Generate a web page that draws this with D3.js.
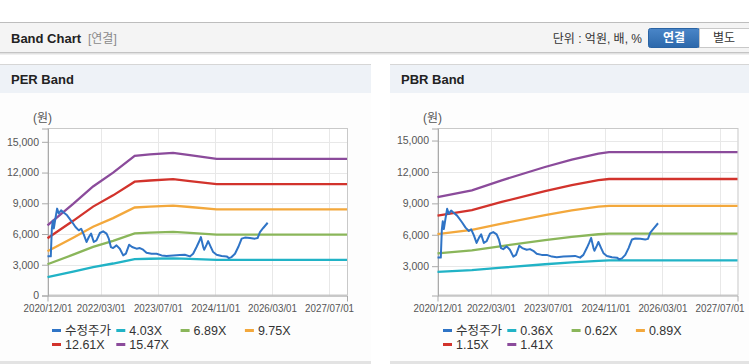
<!DOCTYPE html>
<html><head><meta charset="utf-8">
<script src="https://cdn.jsdelivr.net/npm/d3@7"></script>
<style>
html,body{margin:0;padding:0;background:#fff;}
svg{display:block;font-family:"Liberation Sans","Noto Sans CJK KR",sans-serif;}
</style></head>
<body><svg id="c" width="749" height="364"></svg>
<script>
// ---------- data ----------
const xTickLabels = ["2020/12/01","2022/03/01","2023/07/01","2024/11/01","2026/03/01","2027/07/01"];
const yTicksPer = [0,3000,6000,9000,12000,15000];
const yTicksPbr = [3000,6000,9000,12000,15000];

// 수정주가 (adjusted price), shared by both charts
const priceDates = ["2020-12-01","2020-12-29","2021-01-07","2021-01-15","2021-01-24","2021-02-07","2021-02-21","2021-03-07","2021-03-27","2021-04-13","2021-05-17","2021-06-29","2021-07-28","2021-08-25","2021-09-14","2021-10-07","2021-10-30","2021-11-19","2021-12-08","2021-12-31","2022-01-23","2022-02-21","2022-03-21","2022-04-19","2022-05-08","2022-05-26","2022-06-14","2022-07-13","2022-08-10","2022-09-08","2022-10-01","2022-10-29","2022-11-23","2022-12-31","2023-01-28","2023-02-25","2023-03-26","2023-05-08","2023-06-20","2023-08-02","2023-09-13","2023-11-09","2024-01-05","2024-02-16","2024-03-30","2024-04-27","2024-05-26","2024-06-15","2024-07-02","2024-07-22","2024-07-30","2024-08-20","2024-09-02","2024-09-25","2024-10-15","2024-11-13","2024-12-26","2025-02-07","2025-02-26","2025-03-21","2025-04-19","2025-05-17","2025-06-15","2025-07-13","2025-08-25","2025-10-06","2025-10-29","2025-11-18","2025-12-16","2026-01-23"];
const prices = [3820,3820,6500,7300,6550,7550,8480,8000,8320,8150,7830,7170,6680,6360,6520,5940,5220,5705,6040,5220,5380,6100,6260,6040,5550,4730,4630,4890,4570,3914,4080,4960,4730,4570,4630,4470,4180,4080,4080,3914,3850,3914,3950,3980,3816,4080,4730,5220,5700,4730,4470,4960,5310,4730,4240,3980,3850,3816,3650,3750,4080,4730,5550,5650,5610,5550,5610,6195,6590,7100];

// PER band
const perBandDates = ["2020-12-01","2021-07-08","2021-12-25","2022-06-14","2022-12-15","2023-04-24","2023-11-08","2024-03-30","2024-11-13","2027-12-01"];
const perNames = ["4.03X","6.89X","9.75X","12.61X","15.47X"];
const per403  = [1785,2329,2773,3123,3550,3587,3627,3571,3474,3474];
const per689  = [3052,3982,4740,5340,6070,6132,6201,6105,5939,5939];
const per975  = [4319,5636,6708,7556,8590,8678,8775,8639,8405,8405];
const per1261 = [5586,7289,8676,9773,11109,11223,11349,11172,10870,10870];
const per1547 = [6853,8942,10643,11989,13629,13768,13923,13706,13335,13335];

// PBR band
const pbrBandDates = ["2020-12-01","2021-09-20","2022-06-01","2023-06-05","2024-01-19","2024-09-02","2024-12-01","2027-12-01"];
const pbrNames = ["0.36X","0.62X","0.89X","1.15X","1.41X"];
const pbr036 = [2448,2615,2859,3185,3365,3512,3546,3546];
const pbr062 = [4216,4504,4925,5485,5796,6048,6107,6107];
const pbr089 = [6052,6466,7069,7874,8320,8682,8767,8767];
const pbr115 = [7820,8355,9134,10174,10750,11218,11328,11328];
const pbr141 = [9588,10244,11200,12474,13181,13755,13889,13889];

const priceName = "수정주가";
const colors = ["#2f74c6","#21b3c6","#8ab65a","#f3a83c","#d2332c","#8b4b9b"];

// ---------- drawing ----------
const svg = d3.select("#c");
const parse = d3.timeParse("%Y-%m-%d");
const tickParse = d3.timeParse("%Y/%m/%d");

// header
svg.append("rect").attr("x",0).attr("y",22).attr("width",749).attr("height",31).attr("fill","#f4f4f4");
svg.append("line").attr("x1",0).attr("x2",749).attr("y1",22.5).attr("y2",22.5).attr("stroke","#bdbdbd");
svg.append("line").attr("x1",0).attr("x2",749).attr("y1",52.5).attr("y2",52.5).attr("stroke","#c4c4c4");
svg.append("line").attr("x1",0).attr("x2",749).attr("y1",53.5).attr("y2",53.5).attr("stroke","#e2e2e2");
svg.append("line").attr("x1",0).attr("x2",749).attr("y1",54.5).attr("y2",54.5).attr("stroke","#f0f0f0");
svg.append("text").attr("x",11).attr("y",43).attr("font-size",13).attr("font-weight","bold").attr("fill","#222").text("Band Chart");
svg.append("text").attr("x",88).attr("y",43).attr("font-size",12).attr("fill","#8a8a8a").text("[연결]");
svg.append("text").attr("x",642).attr("y",43).attr("font-size",12).attr("text-anchor","end").attr("fill","#333").text("단위 : 억원, 배, %");
const grad = svg.append("defs").append("linearGradient").attr("id","bg").attr("x1",0).attr("x2",0).attr("y1",0).attr("y2",1);
grad.append("stop").attr("offset","0%").attr("stop-color","#4a86c8");
grad.append("stop").attr("offset","100%").attr("stop-color","#2c68ab");
svg.append("rect").attr("x",648.5).attr("y",28.5).attr("width",51).attr("height",19).attr("rx",2).attr("fill","url(#bg)").attr("stroke","#2a63a3");
svg.append("rect").attr("x",699.5).attr("y",28.5).attr("width",52).attr("height",19).attr("fill","#fff").attr("stroke","#c8c8c8");
svg.append("text").attr("x",674).attr("y",42).attr("font-size",12).attr("font-weight","bold").attr("text-anchor","middle").attr("fill","#fff").text("연결");
svg.append("text").attr("x",724).attr("y",42).attr("font-size",12).attr("text-anchor","middle").attr("fill","#333").text("별도");

function panel(px, pw, title, plotX0, plotX1, yDomain, yTicks, bandDates, bandSeries, bandNames, legendX) {
  svg.append("rect").attr("x",px).attr("y",64).attr("width",pw).attr("height",29).attr("fill","#eef2f7");
  svg.append("line").attr("x1",px).attr("x2",px+pw).attr("y1",64.5).attr("y2",64.5).attr("stroke","#d6d6d6");
  svg.append("rect").attr("x",px).attr("y",93).attr("width",pw).attr("height",268).attr("fill","#fdfdfd");
  svg.append("rect").attr("x",px).attr("y",361).attr("width",pw).attr("height",3).attr("fill","#e3e3e3");
  svg.append("text").attr("x",px+11).attr("y",84).attr("font-size",13).attr("font-weight","bold").attr("fill","#222").text(title);

  const top = 128.5, bottom = 295.5;
  const x = d3.scaleTime().domain([parse("2020-12-01"), parse("2027-12-01")]).range([plotX0, plotX1]);
  const y = d3.scaleLinear().domain(yDomain).range([bottom, top]);
  const g = svg.append("g");
  g.append("rect").attr("x",plotX0).attr("y",top).attr("width",plotX1-plotX0).attr("height",bottom-top).attr("fill","#fff");

  // grid
  g.append("g").selectAll("line").data(yTicks).join("line")
    .attr("x1",plotX0).attr("x2",plotX1).attr("y1",d=>Math.round(y(d))+0.5).attr("y2",d=>Math.round(y(d))+0.5)
    .attr("stroke","#e8e8e8");
  const xt = xTickLabels.map(s=>tickParse(s));
  g.append("g").selectAll("line").data(xt).join("line")
    .attr("x1",d=>Math.round(x(d))+0.5).attr("x2",d=>Math.round(x(d))+0.5).attr("y1",top).attr("y2",bottom)
    .attr("stroke","#e8e8e8");
  // border
  g.append("rect").attr("x",plotX0+0.5).attr("y",top).attr("width",plotX1-plotX0).attr("height",bottom-top-0.5)
    .attr("fill","none").attr("stroke","#c9c9c9");

  // axes
  const yAxis = d3.axisLeft(y).tickValues(yTicks).tickSize(6).tickPadding(3).tickFormat(d3.format(","));
  const ya = g.append("g").attr("transform",`translate(${plotX0+0.5},0)`).call(yAxis);
  ya.select(".domain").attr("stroke","#aaa");
  ya.selectAll(".tick line").attr("stroke","#aaa");
  ya.selectAll("text").attr("font-size",10.5).attr("fill","#555").attr("font-family","Liberation Sans, sans-serif");
  const xAxis = d3.axisBottom(x).tickValues(xt).tickSize(6).tickPadding(3).tickFormat(d3.timeFormat("%Y/%m/%d"));
  const xa = g.append("g").attr("transform",`translate(0,${bottom})`).call(xAxis);
  xa.select(".domain").attr("stroke","#aaa");
  xa.selectAll(".tick line").attr("stroke","#ccc").attr("y1",0).attr("y2",-0);
  xa.selectAll("text").attr("font-size",10).attr("fill","#555").attr("font-family","Liberation Sans, sans-serif").attr("textLength",49).attr("lengthAdjust","spacingAndGlyphs");

  g.append("text").attr("x",plotX0-5).attr("y",122).attr("text-anchor","middle").attr("font-size",12).attr("fill","#555").text("(원)");

  // bands
  const line = d3.line().x(d=>x(d[0])).y(d=>y(d[1]));
  bandSeries.forEach((vals,i)=>{
    const pts = bandDates.map((s,j)=>[parse(s), vals[j]]);
    g.append("path").attr("d",line(pts)).attr("fill","none").attr("stroke",colors[i+1]).attr("stroke-width",2.3);
  });
  const ppts = priceDates.map((s,j)=>[parse(s), prices[j]]);
  g.append("path").attr("d",line(ppts)).attr("fill","none").attr("stroke",colors[0]).attr("stroke-width",2).attr("stroke-linejoin","round");

  // legend
  const names = [priceName].concat(bandNames);
  names.forEach((n,i)=>{
    const col = i % 4, row = Math.floor(i/4);
    const lx = legendX + col*65 - (col===0?0:0.7*col), ly = 330 + row*14;
    svg.append("line").attr("x1",lx).attr("x2",lx+9).attr("y1",ly+0.5).attr("y2",ly+0.5).attr("stroke",colors[i]).attr("stroke-width",3);
    svg.append("text").attr("x",lx+13).attr("y",ly+5).attr("font-size",12.5).attr("fill","#333").text(n);
  });
}

panel(0, 371, "PER Band", 47.5, 347, [0,16300], yTicksPer, perBandDates, [per403,per689,per975,per1261,per1547], perNames, 52);
panel(390, 359, "PBR Band", 437.5, 737.5, [200,16150], yTicksPbr, pbrBandDates, [pbr036,pbr062,pbr089,pbr115,pbr141], pbrNames, 443);
</script></body></html>
